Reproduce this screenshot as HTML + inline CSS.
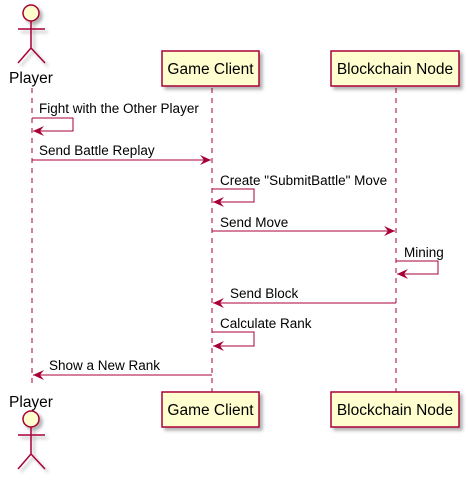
<!DOCTYPE html>
<html><head><style>body{margin:0;background:#fff}text{font-family:"Liberation Sans","DejaVu Sans",sans-serif;fill:#000}</style></head><body>
<svg width="468" height="479" viewBox="0 0 468 479" xmlns="http://www.w3.org/2000/svg">
<defs><filter id="s" x="-20%" y="-20%" width="150%" height="150%"><feDropShadow dx="3" dy="3" stdDeviation="1.5" flood-color="#000" flood-opacity="0.3"/></filter>
<marker id="a" markerWidth="12" markerHeight="10" refX="11" refY="5" orient="auto" markerUnits="userSpaceOnUse"><path d="M0,0 L11,5 L0,10 L4,5 Z" fill="#A80036"/></marker></defs>
<g stroke="#A80036" stroke-width="1" stroke-dasharray="5,5" fill="none">
<line x1="32" y1="88" x2="32" y2="388"/><line x1="212" y1="88" x2="212" y2="392"/><line x1="396" y1="88" x2="396" y2="392"/></g>
<g fill="#FEFECE" stroke="#A80036" stroke-width="1.5" filter="url(#s)">
<rect x="162" y="51" width="97" height="35"/><rect x="331" y="51" width="128" height="35"/>
<rect x="162" y="392" width="97" height="35"/><rect x="331" y="392" width="128" height="35"/></g>
<g font-size="15.5" text-anchor="middle"><text x="210.5" y="74">Game Client</text><text x="395" y="74">Blockchain Node</text>
<text x="210.5" y="415">Game Client</text><text x="395" y="415">Blockchain Node</text>
<text x="31" y="83">Player</text><text x="31" y="407">Player</text></g>
<g stroke="#A80036" stroke-width="1.5" fill="none" filter="url(#s)">
<circle cx="31" cy="13" r="8" fill="#FEFECE"/><path d="M31,21 V48 M18,29 H45 M18,63 L31,48 L45,63"/>
<circle cx="31" cy="419" r="8" fill="#FEFECE"/><path d="M31,427 V454 M18,435 H45 M18,469 L31,454 L45,469"/></g>
<g stroke="#A80036" stroke-width="1" fill="none">
<path d="M32,118 H73 V131 H33" marker-end="url(#a)"/>
<line x1="32" y1="160" x2="211" y2="160" marker-end="url(#a)"/>
<path d="M212,189 H254 V202 H213" marker-end="url(#a)"/>
<line x1="212" y1="231" x2="395" y2="231" marker-end="url(#a)"/>
<path d="M396,261 H438 V274 H397" marker-end="url(#a)"/>
<line x1="396" y1="303" x2="213" y2="303" marker-end="url(#a)"/>
<path d="M212,332 H254 V346 H213" marker-end="url(#a)"/>
<line x1="212" y1="375" x2="33" y2="375" marker-end="url(#a)"/></g>
<g font-size="13.5">
<text x="39" y="113">Fight with the Other Player</text>
<text x="39" y="155">Send Battle Replay</text>
<text x="220" y="185">Create "SubmitBattle" Move</text>
<text x="220" y="227">Send Move</text>
<text x="404" y="257">Mining</text>
<text x="230" y="298">Send Block</text>
<text x="220" y="328">Calculate Rank</text>
<text x="49" y="370">Show a New Rank</text></g>
</svg></body></html>
